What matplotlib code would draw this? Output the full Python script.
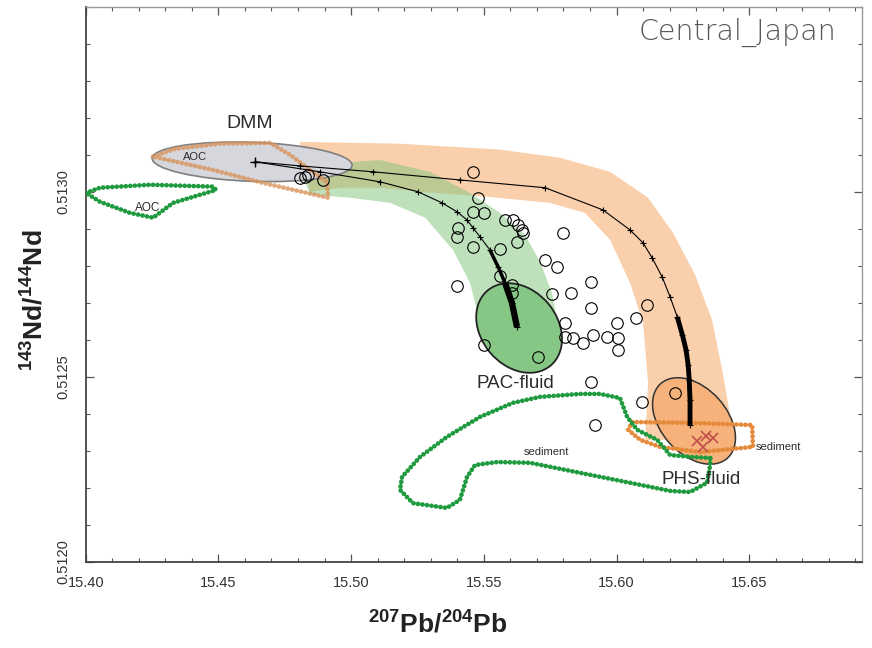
import numpy as np
import matplotlib
matplotlib.use("Agg")
import matplotlib.pyplot as plt
from matplotlib.patches import Ellipse
from matplotlib.transforms import IdentityTransform

plt.rcParams["font.family"] = ["Liberation Sans", "DejaVu Sans"]
plt.rcParams["mathtext.fontset"] = "custom"
plt.rcParams["mathtext.rm"] = "Liberation Sans"
plt.rcParams["mathtext.bf"] = "Liberation Sans:bold"

# --- data (207Pb/204Pb, 143Nd/144Nd) ---
orange_band_x = [15.4807, 15.5184, 15.5561, 15.5787, 15.5976, 15.6119, 15.6213, 15.6296, 15.6360,
                 15.6398, 15.6428, 15.6447, 15.6108, 15.6119, 15.6100, 15.6051, 15.5976, 15.5881,
                 15.5749, 15.5523, 15.5260, 15.5109, 15.4959, 15.4845]
orange_band_y = [0.513135, 0.513130, 0.513114, 0.513092, 0.513054, 0.512984, 0.512889, 0.512776,
                 0.512654, 0.512519, 0.512397, 0.512330, 0.512330, 0.512484, 0.512646, 0.512754,
                 0.512870, 0.512943, 0.512970, 0.512986, 0.513000, 0.513011, 0.513011, 0.513000]

green_band_x = [15.4807, 15.4959, 15.5109, 15.5297, 15.5448, 15.5561, 15.5655, 15.5712, 15.5757,
                15.5780, 15.5486, 15.5474, 15.5448, 15.5384, 15.5279, 15.5147, 15.4996, 15.4845]
green_band_y = [0.513065, 0.513078, 0.513086, 0.513054, 0.512997, 0.512943, 0.512884, 0.512811,
                0.512727, 0.512641, 0.512627, 0.512681, 0.512754, 0.512843, 0.512930, 0.512970,
                0.512984, 0.512992]

aoc_green_x = [15.4001, 15.4054, 15.4242, 15.4480, 15.4491, 15.4329, 15.4254, 15.4167, 15.4054]
aoc_green_y = [0.512997, 0.513011, 0.513019, 0.513014, 0.513005, 0.512970, 0.512930, 0.512943, 0.512973]

aoc_orange_x = [15.4254, 15.4336, 15.4506, 15.4695, 15.4770, 15.4845, 15.4909, 15.4913, 15.4668, 15.4480]
aoc_orange_y = [0.513095, 0.513116, 0.513130, 0.513132, 0.513100, 0.513059, 0.513027, 0.512984, 0.513024, 0.513059]

sed_green_x = [15.6353, 15.6277, 15.6202, 15.6153, 15.6078, 15.6040, 15.6013, 15.5938, 15.5862,
               15.5712, 15.5610, 15.5486, 15.5361, 15.5260, 15.5192, 15.5184, 15.5233, 15.5361,
               15.5410, 15.5437, 15.5467, 15.5550, 15.5674, 15.5862, 15.6051, 15.6202, 15.6277,
               15.6341, 15.6353]
sed_green_y = [0.512281, 0.512284, 0.512289, 0.512330, 0.512357, 0.512392, 0.512443, 0.512454,
               0.512454, 0.512446, 0.512430, 0.512392, 0.512338, 0.512284, 0.512230, 0.512195,
               0.512159, 0.512146, 0.512168, 0.512230, 0.512262, 0.512270, 0.512268, 0.512241,
               0.512214, 0.512192, 0.512189, 0.512214, 0.512262]

sed_orange_x = [15.6059, 15.6277, 15.6511, 15.6514, 15.6315, 15.6164, 15.6089, 15.6044]
sed_orange_y = [0.512378, 0.512376, 0.512370, 0.512311, 0.512297, 0.512311, 0.512330, 0.512357]

# end-member fields: centre x, centre y
dmm_center = (15.4627, 0.513081)
pac_center = (15.5633, 0.512632)
phs_center = (15.6292, 0.512381)

# mixing curves DMM -> fluid
phs_mix_x = [15.4638, 15.4807, 15.5083, 15.5410, 15.5731, 15.5949, 15.6051, 15.6100, 15.6134,
             15.6172, 15.6202, 15.6229, 15.6248, 15.6262, 15.6270, 15.6274, 15.6277, 15.6277]
phs_mix_y = [0.513081, 0.513070, 0.513054, 0.513032, 0.513011, 0.512951, 0.512897, 0.512862,
             0.512822, 0.512770, 0.512716, 0.512662, 0.512614, 0.512573, 0.512532, 0.512492,
             0.512438, 0.512370]
pac_mix_x = [15.4638, 15.4883, 15.5109, 15.5252, 15.5343, 15.5399, 15.5437, 15.5459, 15.5486,
             15.5523, 15.5554, 15.5580, 15.5606, 15.5625]
pac_mix_y = [0.513081, 0.513054, 0.513027, 0.513000, 0.512970, 0.512946, 0.512924, 0.512903,
             0.512878, 0.512843, 0.512797, 0.512754, 0.512700, 0.512635]

# Central Japan volcanic rocks
samp_x = [15.4807, 15.4826, 15.4838, 15.4894, 15.5459, 15.5478, 15.5459, 15.5501, 15.5580, 15.5610,
          15.5629, 15.5644, 15.5648, 15.5403, 15.5399, 15.5625, 15.5459, 15.5561, 15.5799, 15.5731,
          15.5776, 15.5904, 15.5561, 15.5606, 15.5606, 15.5399, 15.5757, 15.5829, 15.5904, 15.6115,
          15.6074, 15.6002, 15.5806, 15.5806, 15.5836, 15.5874, 15.5911, 15.5964, 15.6006, 15.6006,
          15.5501, 15.5704, 15.5904, 15.6097, 15.5919, 15.6221]
samp_y = [0.513038, 0.513041, 0.513046, 0.513032, 0.513054, 0.512984, 0.512946, 0.512943, 0.512924,
          0.512924, 0.512911, 0.512897, 0.512889, 0.512903, 0.512878, 0.512865, 0.512851, 0.512846,
          0.512889, 0.512816, 0.512797, 0.512757, 0.512773, 0.512749, 0.512727, 0.512746, 0.512724,
          0.512727, 0.512686, 0.512695, 0.512659, 0.512646, 0.512646, 0.512608, 0.512605, 0.512592,
          0.512614, 0.512608, 0.512605, 0.512573, 0.512586, 0.512554, 0.512486, 0.512432, 0.512370,
          0.512457]

phs_sed_x = [15.6304, 15.6326, 15.6364, 15.6338]
phs_sed_y = [0.512327, 0.512311, 0.512335, 0.512341]

xticks = [15.40, 15.45, 15.50, 15.55, 15.60, 15.65]
yticks = [0.5120, 0.5125, 0.5130]

ORANGE_BAND = "#fad0ac"
GREEN_BAND = "#7fc47b"
GREEN_LINE = "#1f9a3f"
ORANGE_LINE = "#e58a3a"

fig = plt.figure(figsize=(8.72, 6.48), dpi=100)
ax = fig.add_axes([85.7 / 872, 86 / 648, 776.3 / 872, 555.3 / 648])
ax.set_xlim(15.40, 15.6925)
ax.set_ylim(0.5120, 0.5135)

ax.fill(orange_band_x, orange_band_y, color=ORANGE_BAND, lw=0, zorder=1)
ax.fill(green_band_x, green_band_y, color=GREEN_BAND, alpha=0.5, lw=0, zorder=2)


def add_ellipse(center, w, h, ang, fc, ec, lw, z, alpha=1.0):
    cx, cy = ax.transData.transform(center)
    e = Ellipse((cx, cy), w, h, angle=ang, transform=IdentityTransform(),
                facecolor=fc, edgecolor=ec, lw=lw, alpha=alpha, zorder=z)
    ax.add_patch(e)


add_ellipse(dmm_center, 200, 39, -2, "#d5d7dc", "#7f7f7f", 1.2, 3)
add_ellipse(pac_center, 98, 76, -50, "#87c786", "#222222", 1.3, 3)
add_ellipse(phs_center, 100, 66, -48, "#f6b27a", "#333333", 1.1, 3)

bead = dict(lw=3.4, linestyle=(0, (0.01, 0.95)), dash_capstyle="round",
            solid_joinstyle="round", zorder=4)


def closed(xs, ys):
    return list(xs) + [xs[0]], list(ys) + [ys[0]]


ax.plot(*closed(aoc_orange_x, aoc_orange_y), color="#d8935c", alpha=0.8, **bead)
ax.plot(*closed(aoc_green_x, aoc_green_y), color=GREEN_LINE, **bead)
ax.plot(*closed(sed_orange_x, sed_orange_y), color=ORANGE_LINE, **bead)
ax.plot(*closed(sed_green_x, sed_green_y), color=GREEN_LINE, **bead)

# mixing curves
ax.plot(phs_mix_x, phs_mix_y, color="black", lw=0.8, marker="+", ms=4, mew=0.8, zorder=5)
ax.plot(phs_mix_x[11:], phs_mix_y[11:], color="black", lw=3.5, solid_capstyle="butt", zorder=5)
ax.plot(pac_mix_x, pac_mix_y, color="black", lw=0.8, marker="+", ms=4, mew=0.8, zorder=5)
ax.plot(pac_mix_x[9:], pac_mix_y[9:], color="black", lw=2.5, solid_capstyle="butt", zorder=5)
ax.plot(pac_mix_x[11:], pac_mix_y[11:], color="black", lw=4.5, solid_capstyle="butt", zorder=5)
ax.plot(pac_mix_x[:1], pac_mix_y[:1], marker="+", ms=7, mew=1, color="black", zorder=5)

ax.plot(samp_x, samp_y, "o", ms=8.3, mfc="none", mec="black", mew=0.8, zorder=6)
ax.plot(phs_sed_x, phs_sed_y, "x", ms=7, mew=1.2, color="#c0504d", zorder=6)

# labels on the plot
txt = dict(color="#2b2b2b", ha="center", va="center", zorder=7)
ax.text(15.4619, 0.513184, "DMM", fontsize=14, **txt)
ax.text(15.4413, 0.513095, "AOC", fontsize=8, **txt)
ax.text(15.4235, 0.512957, "AOC", fontsize=8.5, **txt)
ax.text(15.5618, 0.512481, "PAC-fluid", fontsize=13.5, **txt)
ax.text(15.5735, 0.512297, "sediment", fontsize=8, **txt)
ax.text(15.6610, 0.512311, "sediment", fontsize=8, **txt)
ax.text(15.6318, 0.512224, "PHS-fluid", fontsize=13.5, **txt)
ax.text(0.84, 0.953, "Central_Japan", transform=ax.transAxes, fontsize=20.5,
        family="DejaVu Sans", fontweight="light", color="#555555", ha="center", va="center")

# axes styling
ax.set_xticks(xticks)
ax.set_xticklabels([f"{v:.2f}" for v in xticks])
ax.set_yticks(yticks)
ax.set_yticklabels([f"{v:.4f}" for v in yticks], rotation=90, va="center")
ax.set_xticks(np.arange(15.40, 15.6925, 0.01), minor=True)
ax.set_yticks(np.arange(0.5120, 0.51351, 0.0001), minor=True)
ax.tick_params(which="both", direction="in", top=True, right=True, color="#555555",
               labelsize=10.5, labelcolor="#333333")
ax.tick_params(which="major", length=6, width=0.9)
ax.tick_params(which="minor", length=3, width=0.8)
ax.tick_params(axis="x", pad=10)
ax.tick_params(axis="y", pad=11)
for side in ["left", "bottom"]:
    ax.spines[side].set_color("#444444")
    ax.spines[side].set_linewidth(1.3)
for side in ["top", "right"]:
    ax.spines[side].set_color("#999999")
    ax.spines[side].set_linewidth(1.0)

fig.text(438 / 872, 1 - 625 / 648, r"$\mathbf{^{207}Pb/^{204}Pb}$", fontsize=19,
         ha="center", va="center", color="#222222")
fig.text(35 / 872, 1 - 300 / 648, r"$\mathbf{^{143}Nd/^{144}Nd}$", fontsize=19,
         ha="center", va="center", rotation=90, color="#222222")

fig.savefig("out.png", dpi=100)
